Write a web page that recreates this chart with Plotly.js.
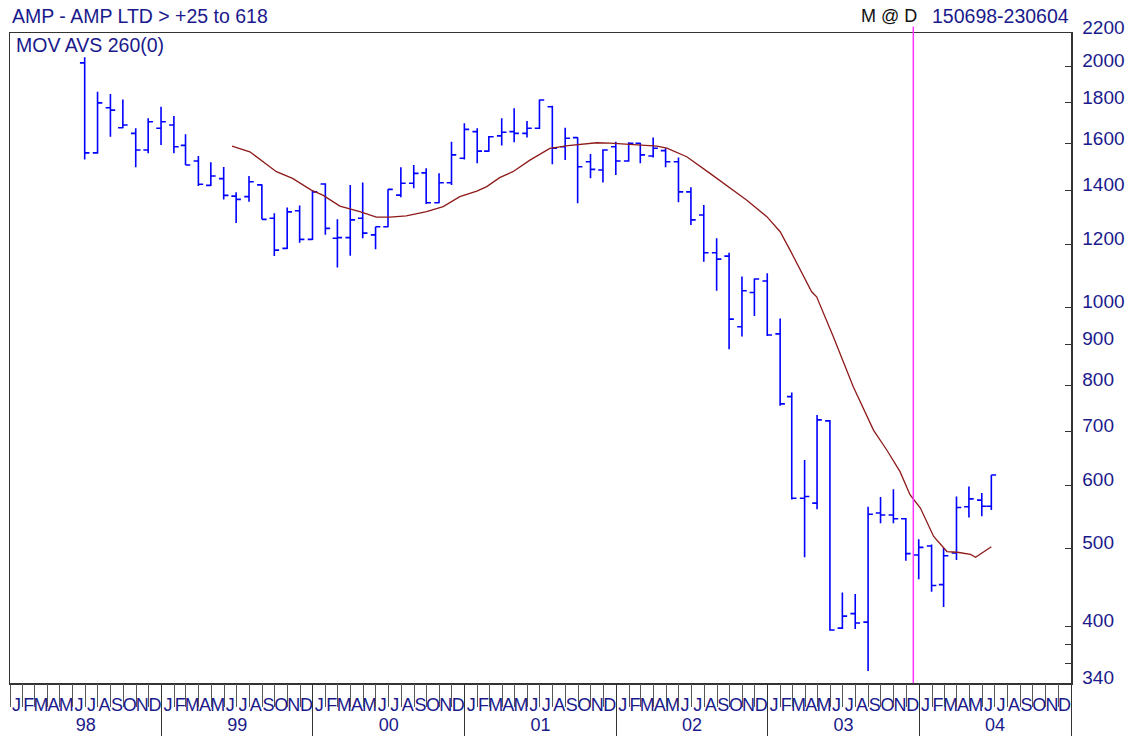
<!DOCTYPE html>
<html>
<head>
<meta charset="utf-8">
<script src="https://cdn.plot.ly/plotly-3.0.1.min.js"></script>
<style>
  html, body { margin: 0; padding: 0; background: #ffffff; }
  #chart { width: 1126px; height: 736px; }
</style>
</head>
<body>
<div id="chart"></div>
<script>
// ---------------- DATA (monthly OHLC bars, AMP LTD) ----------------
const barDates = [
  '1998-06-30','1998-07-31','1998-08-31','1998-09-30','1998-10-31','1998-11-30','1998-12-31',
  '1999-01-31','1999-02-28','1999-03-31','1999-04-30','1999-05-31','1999-06-30','1999-07-31','1999-08-31','1999-09-30','1999-10-31','1999-11-30','1999-12-31',
  '2000-01-31','2000-02-29','2000-03-31','2000-04-30','2000-05-31','2000-06-30','2000-07-31','2000-08-31','2000-09-30','2000-10-31','2000-11-30','2000-12-31',
  '2001-01-31','2001-02-28','2001-03-31','2001-04-30','2001-05-31','2001-06-30','2001-07-31','2001-08-31','2001-09-30','2001-10-31','2001-11-30','2001-12-31',
  '2002-01-31','2002-02-28','2002-03-31','2002-04-30','2002-05-31','2002-06-30','2002-07-31','2002-08-31','2002-09-30','2002-10-31','2002-11-30','2002-12-31',
  '2003-01-31','2003-02-28','2003-03-31','2003-04-30','2003-05-31','2003-06-30','2003-07-31','2003-08-31','2003-09-30','2003-10-31','2003-11-30','2003-12-31',
  '2004-01-31','2004-02-29','2004-03-31','2004-04-30','2004-05-31','2004-06-23'
];
const barOpen = [
  2019,1559,1775,1676,1649,1572,1673,
  1689,1593,1523,1420,1448,1377,1375,1422,1292,1185,1320,1216,
  1426,1220,1222,1292,1232,1261,1381,1429,1472,1351,1431,1535,
  1657,1567,1637,1657,1649,1673,1780,1587,1629,1520,1484,1587,
  1523,1603,1545,1569,1520,1394,1304,1170,1159,946,1044,1079,
  927,774,578,570,722,398,415,405,554,551,545,491,
  504,451,494,564,575,565
];
const barHigh = [
  2052,1858,1846,1818,1673,1722,1780,
  1733,1645,1545,1518,1497,1392,1459,1425,1311,1333,1340,1397,
  1429,1288,1422,1432,1261,1404,1496,1506,1492,1470,1610,1697,
  1673,1637,1722,1772,1708,1818,1785,1676,1631,1554,1575,1610,
  1607,1605,1630,1580,1539,1412,1342,1220,1170,1093,1087,1103,
  969,783,645,734,724,441,439,564,580,593,546,514,
  506,501,581,598,587,618
];
const barLow = [
  1530,1555,1633,1673,1496,1557,1595,
  1557,1506,1418,1418,1364,1275,1355,1288,1159,1183,1204,1214,
  1232,1122,1160,1220,1182,1259,1372,1408,1346,1349,1422,1530,
  1513,1564,1592,1607,1630,1670,1509,1527,1349,1449,1432,1463,
  1520,1513,1539,1496,1353,1267,1140,1049,887,920,976,921,
  754,576,488,560,395,397,397,352,538,538,483,458,
  442,423,484,547,549,559
];
const barClose = [
  1559,1800,1763,1689,1572,1705,1705,
  1587,1506,1425,1459,1380,1364,1435,1288,1179,1316,1216,1394,
  1255,1222,1286,1238,1261,1404,1429,1470,1351,1431,1550,1668,
  1567,1633,1654,1649,1673,1815,1580,1626,1498,1487,1572,1523,
  1603,1550,1580,1520,1394,1286,1170,1149,967,1049,1085,924,
  758,578,581,724,396,412,404,552,551,545,493,502,
  450,490,563,577,565,618
];

// 260-day moving average
const maDates = [
  '1999-06-20','1999-08-02','1999-10-05','1999-11-13','1999-12-28',
  '2000-01-25','2000-03-06','2000-04-23','2000-06-02','2000-07-04','2000-08-13','2000-10-01','2000-11-10','2000-12-20',
  '2001-01-30','2001-02-23','2001-03-26','2001-04-27','2001-06-07','2001-07-25','2001-09-07','2001-11-15','2001-12-17',
  '2002-02-04','2002-04-09','2002-05-03','2002-06-20','2002-08-15','2002-10-02','2002-11-11','2002-12-30',
  '2003-01-31','2003-02-24','2003-03-20','2003-04-17','2003-04-29','2003-06-08','2003-07-26','2003-09-13','2003-10-15','2003-11-16','2003-12-10',
  '2004-01-04','2004-02-05','2004-03-08','2004-04-02','2004-05-04','2004-05-16','2004-06-23'
];
const maValues = [
  1590,1564,1477,1449,1401,
  1381,1338,1317,1296,1296,1301,1317,1336,1375,
  1397,1415,1452,1477,1527,1579,1592,1605,1603,
  1598,1590,1580,1542,1470,1408,1362,1298,
  1243,1179,1114,1046,1031,920,797,703,664,624,584,
  562,518,496,495,492,488,503
];

const markerDate = '2003-12-18';

// axis labels
const years = [1998, 1999, 2000, 2001, 2002, 2003, 2004];
const yearLabels = ['98', '99', '00', '01', '02', '03', '04'];
const monthLetters = ['J','F','M','A','M','J','J','A','S','O','N','D'];
const yTickVals = [340, 360, 380, 400, 500, 600, 700, 800, 900, 1000, 1200, 1400, 1600, 1800, 2000, 2200];
const yTickText = ['340', '', '', '400', '500', '600', '700', '800', '900', '1000', '1200', '1400', '1600', '1800', '2000', '2200'];

const titleText = 'AMP - AMP LTD &gt; +25 to 618';
const studyText = 'MOV AVS 260(0)';
const modeText = 'M @ D';
const rangeText = '150698-230604';

// ---------------- helpers for axis tick positions ----------------
function pad(n) { return (n < 10 ? '0' : '') + n; }
function fmt(ms) {
  const d = new Date(ms);
  return d.getUTCFullYear() + '-' + pad(d.getUTCMonth() + 1) + '-' + pad(d.getUTCDate()) +
    ' ' + pad(d.getUTCHours()) + ':' + pad(d.getUTCMinutes());
}
const monthStarts = [], monthMids = [], monthText = [];
years.forEach(function (y) {
  for (let m = 0; m < 12; m++) {
    const a = Date.UTC(y, m, 1), b = Date.UTC(y, m + 1, 1);
    monthStarts.push(fmt(a));
    monthMids.push(fmt((a + b) / 2));
    monthText.push(monthLetters[m]);
  }
});
monthStarts.push(fmt(Date.UTC(2005, 0, 1)));
const yearStarts = years.slice(1).map(function (y) { return y + '-01-01'; }).concat(['2005-01-01']);
const yearMids = years.map(function (y) { return fmt((Date.UTC(y, 0, 1) + Date.UTC(y + 1, 0, 1)) / 2); });

const X_RANGE = ['1998-01-01', '2005-01-01'];
const NAVY = '#1a1a8c';
const FONT = 'Liberation Sans, Arial, Helvetica, sans-serif';
const NARROW = 'Liberation Sans Narrow, Arial Narrow, Liberation Sans, sans-serif';
const FS = 19;

// ---------------- traces ----------------
const bars = {
  type: 'ohlc',
  x: barDates, open: barOpen, high: barHigh, low: barLow, close: barClose,
  increasing: { line: { color: '#0000ff', width: 1.6 } },
  decreasing: { line: { color: '#0000ff', width: 1.6 } },
  tickwidth: 0.5,
  hoverinfo: 'none',
  xaxis: 'x', yaxis: 'y'
};
const ma = {
  type: 'scatter', mode: 'lines',
  x: maDates, y: maValues,
  line: { color: '#8e1a1a', width: 1.3 },
  hoverinfo: 'none',
  xaxis: 'x', yaxis: 'y'
};
const dummy2 = { type: 'scatter', x: [], y: [], xaxis: 'x2', yaxis: 'y', hoverinfo: 'none' };
const dummy3 = { type: 'scatter', x: [], y: [], xaxis: 'x3', yaxis: 'y', hoverinfo: 'none' };
const dummy4 = { type: 'scatter', x: [], y: [], xaxis: 'x4', yaxis: 'y', hoverinfo: 'none' };

const baseX = {
  type: 'date', range: X_RANGE, autorange: false,
  showgrid: false, zeroline: false, fixedrange: true
};

const layout = {
  width: 1126, height: 736,
  margin: { l: 10, r: 55, t: 33, b: 53, pad: 0 },
  paper_bgcolor: '#ffffff', plot_bgcolor: '#ffffff',
  showlegend: false,
  xaxis: Object.assign({}, baseX, {
    rangeslider: { visible: false },
    tickmode: 'array', tickvals: monthMids, ticktext: monthText,
    ticks: '', showline: true, linecolor: '#333333', linewidth: 1.5, mirror: true,
    tickfont: { family: NARROW, size: 18, color: NAVY },
    ticklabelstandoff: 5, tickangle: 0
  }),
  xaxis2: Object.assign({}, baseX, {
    overlaying: 'x', anchor: 'y', side: 'bottom',
    tickmode: 'array', tickvals: monthStarts,
    ticks: 'outside', ticklen: 23, tickwidth: 1, tickcolor: '#555555',
    showticklabels: false, showline: false
  }),
  xaxis3: Object.assign({}, baseX, {
    overlaying: 'x', anchor: 'y', side: 'bottom',
    tickmode: 'array', tickvals: yearStarts,
    ticks: 'outside', ticklen: 53, tickwidth: 1, tickcolor: '#333333',
    showticklabels: false, showline: false
  }),
  xaxis4: Object.assign({}, baseX, {
    overlaying: 'x', anchor: 'y', side: 'bottom',
    tickmode: 'array', tickvals: yearMids, ticktext: yearLabels,
    ticks: '', showline: false,
    tickfont: { family: FONT, size: 18, color: NAVY },
    ticklabelstandoff: 29, tickangle: 0
  }),
  yaxis: {
    type: 'log', range: [Math.log10(340), Math.log10(2200)], autorange: false,
    side: 'right',
    tickmode: 'array', tickvals: yTickVals, ticktext: yTickText,
    ticks: 'inside', ticklen: 6, tickwidth: 1, tickcolor: '#333333',
    showline: true, linecolor: '#333333', linewidth: 1.5, mirror: true,
    showgrid: false, zeroline: false, fixedrange: true,
    tickfont: { family: FONT, size: FS, color: NAVY },
    ticklabelshift: -6, ticklabelstandoff: 6
  },
  shapes: [{
    type: 'line', xref: 'x', yref: 'paper',
    x0: markerDate, x1: markerDate, y0: 0, y1: 1.01,
    line: { color: '#ff33ff', width: 1.5 }
  }],
  annotations: [
    { xref: 'paper', yref: 'paper', x: 0, y: 1.026, xanchor: 'left', yanchor: 'middle',
      xshift: 0, text: titleText, showarrow: false,
      font: { family: FONT, size: 19.5, color: NAVY } },
    { xref: 'paper', yref: 'paper', x: 0.004, y: 0.9815, xanchor: 'left', yanchor: 'middle',
      text: studyText, showarrow: false,
      font: { family: FONT, size: 19.5, color: NAVY } },
    { xref: 'paper', yref: 'paper', x: 0.8565, y: 1.026, xanchor: 'right', yanchor: 'middle',
      text: modeText, showarrow: false,
      font: { family: FONT, size: 18, color: '#111111' } },
    { xref: 'paper', yref: 'paper', x: 1.0, y: 1.026, xanchor: 'right', yanchor: 'middle',
      text: rangeText, showarrow: false,
      font: { family: FONT, size: 19.5, color: NAVY } }
  ]
};

Plotly.newPlot('chart', [bars, ma, dummy2, dummy3, dummy4], layout, { displayModeBar: false, staticPlot: true });
</script>
</body>
</html>
